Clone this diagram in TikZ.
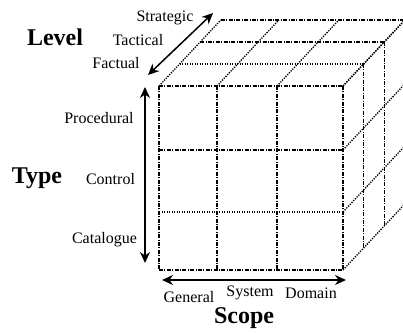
\documentclass[tikz,border=0pt]{standalone}
\usepackage{fontspec}
\setmainfont{Liberation Serif}
\usetikzlibrary{arrows.meta}
\tikzset{
  edge/.style={line width=1.3pt, dash pattern=on 4pt off 1.4pt on 1pt off 1.4pt},
  dotedge/.style={line width=1.3pt, dash pattern=on 1.3pt off 1.2pt},
  axis/.style={line width=1.5pt, {Stealth[length=11pt,width=10pt]}-{Stealth[length=11pt,width=10pt]}},
  lab/.style={font=\fontsize{16}{18}\selectfont, inner sep=0pt},
  head/.style={font=\fontsize{24}{28}\selectfont\bfseries, inner sep=0pt}
}
\begin{document}
\begin{tikzpicture}[x=1pt,y=-1pt]
\useasboundingbox (0,0) rectangle (403,332);
\clip (0,0) rectangle (403,332);
\def\dx{20.6}
\def\dy{22}
\foreach \x in {159,217,277,343}{
\draw[edge] (\x,86)--(\x,270);
\draw[dotedge] (\x,86)--(\x+3*\dx,86-3*\dy);
}
\foreach \y in {86,150,270}{
\draw[edge] (159,\y)--(343,\y);
}
\draw[dotedge] (159,212)--(343,212);
\foreach \y in {86,150,212,270}{
\draw[dotedge] (343,\y)--(343+3*\dx,\y-3*\dy);
}
\draw[dotedge] (159+\dx,86-\dy)--(343+\dx,86-\dy);
\foreach \k in {2,3}{
\draw[edge] (159+\k*\dx,86-\k*\dy)--(343+\k*\dx,86-\k*\dy);
}
\foreach \k in {1,2,3}{
\draw[edge] (343+\k*\dx,86-\k*\dy)--(343+\k*\dx,270-\k*\dy);
}
\coordinate (lvlA) at (148,75);
\coordinate (lvlB) at (213,13);
\coordinate (typA) at (145,87);
\coordinate (typB) at (145,263);
\coordinate (scoA) at (162,280);
\coordinate (scoB) at (346,280);
\draw[axis] (lvlA)--(lvlB);
\draw[axis] (typA)--(typB);
\draw[axis] (scoA)--(scoB);
\node[head] (level) at (55,37) {Level};
\node[lab] (strategic) at (165,18) {Strategic};
\node[lab] (tactical) at (138,40) {Tactical};
\node[lab] (factual) at (116,63) {Factual};
\node[head] (type) at (37,178) {Type};
\node[lab] (procedural) at (99,118) {Procedural};
\node[lab] (control) at (110.5,179) {Control};
\node[lab] (catalogue) at (104.5,240) {Catalogue};
\node[lab] (general) at (189,297) {General};
\node[lab] (system) at (250,293) {System};
\node[lab] (domain) at (311,293) {Domain};
\node[head] (scope) at (244,318) {Scope};
\end{tikzpicture}
\end{document}
